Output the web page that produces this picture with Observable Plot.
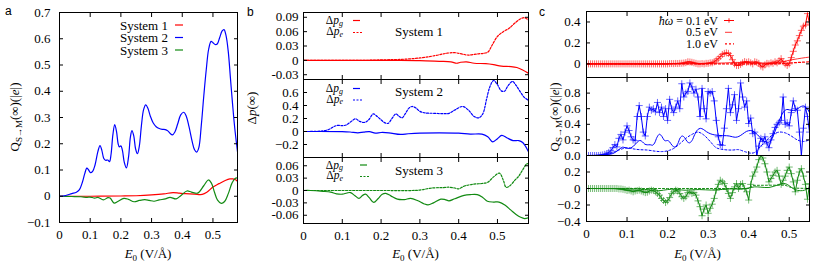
<!DOCTYPE html>
<html><head><meta charset="utf-8">
<script src="https://cdn.jsdelivr.net/npm/d3@7"></script>
<script src="https://cdn.jsdelivr.net/npm/@observablehq/plot@0.6"></script>
<style>
body{margin:0;background:#fff}
#fig{position:relative;width:830px;height:264px;overflow:hidden;font-family:"Liberation Serif","Tinos","Times New Roman","DejaVu Serif",serif;background:#fff}
#fig svg.p{position:absolute;overflow:visible}
#fig svg, #fig text{font-family:"Liberation Serif","Tinos","Times New Roman","DejaVu Serif",serif}
#fig .sans, #fig .sans text{font-family:"Liberation Sans",Arial,"DejaVu Sans",sans-serif}
#ov{position:absolute;left:0;top:0;pointer-events:none}
</style></head><body><div id="fig"></div>
<script>
// ---------- tick values and labels ----------
const xTicks = [0, 0.1, 0.2, 0.3, 0.4, 0.5];
const xTickLabels = ["0", "0.1", "0.2", "0.3", "0.4", "0.5"];
const aYTicks = [-0.1, 0, 0.1, 0.2, 0.3, 0.4, 0.5, 0.6, 0.7];
const aYLabels = ["\u22120.1", "0", "0.1", "0.2", "0.3", "0.4", "0.5", "0.6", "0.7"];
const b1YTicks = [-0.03, 0, 0.03, 0.06, 0.09];
const b1YLabels = ["-0.03", "0", "0.03", "0.06", "0.09"];
const b2YTicks = [-0.2, 0, 0.2, 0.4, 0.6];
const b2YLabels = ["\u22120.2", "0", "0.2", "0.4", "0.6"];
const b3YTicks = [-0.06, -0.03, 0, 0.03, 0.06];
const b3YLabels = ["-0.06", "-0.03", "0", "0.03", "0.06"];
const c1YTicks = [0, 0.2, 0.4];
const c1YLabels = ["0", "0.2", "0.4"];
const c2YTicks = [0, 0.2, 0.4, 0.6, 0.8];
const c2YLabels = ["0.0", "0.2", "0.4", "0.6", "0.8"];
const c3YTicks = [-0.4, -0.2, 0, 0.2];
const c3YLabels = ["\u22120.4", "\u22120.2", "0", "0.2"];

// ---------- panel a: Q_{S->M} (also hbar*omega = 0.5 eV in panel c) ----------
const aSys1 = [[0,0],[0.1,0],[0.2,0.001],[0.25,0.002],[0.3,0.005],[0.34,0.009],[0.37,0.014],[0.39,0.012],[0.41,0.01],[0.44,0.008],[0.465,0.007],[0.48,0.015],[0.5,0.035],[0.52,0.048],[0.54,0.06],[0.555,0.066],[0.565,0.066],[0.575,0.062],[0.58,0.057]];
const aSys2 = [[0,0],[0.02,0.003],[0.04,0.01],[0.055,0.015],[0.065,0.025],[0.075,0.055],[0.082,0.085],[0.089,0.107],[0.095,0.1],[0.101,0.09],[0.108,0.095],[0.116,0.12],[0.125,0.17],[0.132,0.193],[0.138,0.175],[0.144,0.145],[0.15,0.137],[0.157,0.138],[0.163,0.132],[0.168,0.16],[0.174,0.235],[0.18,0.273],[0.186,0.245],[0.191,0.2],[0.195,0.188],[0.2,0.192],[0.205,0.175],[0.211,0.13],[0.218,0.108],[0.225,0.15],[0.231,0.225],[0.236,0.25],[0.242,0.23],[0.248,0.18],[0.254,0.162],[0.26,0.19],[0.267,0.27],[0.274,0.33],[0.281,0.348],[0.288,0.335],[0.296,0.305],[0.305,0.28],[0.315,0.265],[0.325,0.258],[0.335,0.255],[0.345,0.254],[0.352,0.25],[0.36,0.24],[0.368,0.234],[0.376,0.245],[0.385,0.275],[0.395,0.31],[0.405,0.32],[0.413,0.305],[0.422,0.265],[0.432,0.21],[0.44,0.177],[0.447,0.168],[0.454,0.185],[0.462,0.27],[0.47,0.38],[0.478,0.48],[0.486,0.56],[0.494,0.59],[0.5,0.585],[0.507,0.578],[0.514,0.58],[0.522,0.605],[0.53,0.63],[0.536,0.635],[0.543,0.61],[0.55,0.55],[0.557,0.45],[0.564,0.35],[0.571,0.26],[0.58,0.17]];
const aSys3 = [[0,0],[0.04,-0.001],[0.07,-0.002],[0.09,-0.004],[0.1,-0.003],[0.115,-0.007],[0.125,-0.004],[0.143,-0.014],[0.158,-0.005],[0.165,-0.007],[0.178,-0.026],[0.19,-0.02],[0.21,-0.008],[0.225,-0.012],[0.243,-0.021],[0.26,-0.016],[0.278,-0.013],[0.293,-0.016],[0.308,-0.019],[0.325,-0.014],[0.345,-0.01],[0.36,-0.004],[0.38,-0.01],[0.395,0.002],[0.415,0.02],[0.43,0.016],[0.45,0.012],[0.47,0.04],[0.485,0.062],[0.495,0.05],[0.505,0.015],[0.515,-0.015],[0.527,-0.027],[0.538,-0.02],[0.55,0.01],[0.562,0.05],[0.572,0.068],[0.58,0.07]];

// ---------- panel b: Delta p_g (solid) and Delta p_e (dashed) ----------
const b1Pe = [[0,0],[0.15,0],[0.2,0.001],[0.25,0.002],[0.3,0.005],[0.34,0.01],[0.37,0.015],[0.39,0.016],[0.41,0.013],[0.425,0.011],[0.445,0.013],[0.465,0.015],[0.475,0.017],[0.485,0.03],[0.5,0.05],[0.515,0.06],[0.53,0.067],[0.545,0.078],[0.56,0.087],[0.57,0.089],[0.58,0.084]];
const b1Pg = [[0,0],[0.25,0],[0.3,-0.0005],[0.35,-0.002],[0.38,-0.003],[0.395,-0.006],[0.405,-0.004],[0.42,-0.003],[0.44,-0.006],[0.47,-0.007],[0.49,-0.009],[0.51,-0.012],[0.535,-0.013],[0.55,-0.015],[0.565,-0.02],[0.58,-0.027]];
const b2Pe = [[0,0],[0.03,0.002],[0.05,0.01],[0.065,0.03],[0.08,0.08],[0.09,0.095],[0.1,0.09],[0.11,0.1],[0.122,0.15],[0.134,0.195],[0.145,0.155],[0.158,0.14],[0.168,0.18],[0.18,0.27],[0.19,0.23],[0.2,0.18],[0.208,0.14],[0.218,0.125],[0.228,0.2],[0.238,0.27],[0.247,0.23],[0.254,0.21],[0.262,0.27],[0.272,0.36],[0.28,0.385],[0.29,0.36],[0.3,0.31],[0.315,0.285],[0.335,0.28],[0.36,0.275],[0.375,0.28],[0.39,0.33],[0.41,0.385],[0.425,0.33],[0.44,0.23],[0.452,0.21],[0.462,0.27],[0.472,0.5],[0.48,0.68],[0.49,0.785],[0.5,0.72],[0.51,0.625],[0.518,0.62],[0.528,0.71],[0.539,0.77],[0.548,0.71],[0.56,0.6],[0.57,0.52],[0.58,0.48]];
const b2Pg = [[0,0],[0.1,-0.002],[0.12,-0.008],[0.14,-0.02],[0.155,-0.01],[0.17,-0.003],[0.185,-0.025],[0.2,-0.015],[0.22,-0.02],[0.25,-0.045],[0.27,-0.035],[0.3,-0.025],[0.35,-0.02],[0.4,-0.025],[0.43,-0.04],[0.46,-0.04],[0.475,-0.08],[0.488,-0.16],[0.5,-0.11],[0.511,-0.06],[0.525,-0.1],[0.54,-0.14],[0.555,-0.14],[0.565,-0.17],[0.58,-0.31]];
const b3Pe = [[0,0],[0.2,0],[0.28,0],[0.3,0.001],[0.33,0.006],[0.36,0.007],[0.375,0.008],[0.39,0.006],[0.4,0.004],[0.415,0.011],[0.43,0.014],[0.445,0.016],[0.46,0.017],[0.475,0.02],[0.49,0.033],[0.505,0.042],[0.515,0.025],[0.522,0.008],[0.53,0.01],[0.545,0.025],[0.555,0.035],[0.565,0.05],[0.575,0.064],[0.58,0.065]];
const b3Pg = [[0,0],[0.018,0],[0.05,-0.002],[0.07,-0.004],[0.085,-0.008],[0.1,-0.009],[0.112,-0.006],[0.121,-0.005],[0.132,-0.012],[0.143,-0.019],[0.152,-0.012],[0.16,-0.009],[0.17,-0.018],[0.181,-0.029],[0.192,-0.02],[0.203,-0.009],[0.212,-0.007],[0.225,-0.013],[0.242,-0.021],[0.26,-0.022],[0.276,-0.019],[0.295,-0.025],[0.31,-0.032],[0.321,-0.035],[0.335,-0.03],[0.354,-0.021],[0.365,-0.022],[0.375,-0.025],[0.39,-0.02],[0.414,-0.012],[0.43,-0.01],[0.448,-0.01],[0.462,-0.017],[0.474,-0.026],[0.49,-0.028],[0.504,-0.028],[0.52,-0.036],[0.534,-0.047],[0.548,-0.058],[0.56,-0.065],[0.57,-0.068],[0.58,-0.066]];

// ---------- panel c: hbar*omega = 0.1 eV (markers), 1.0 eV (dotted) ----------
const cE = [0,0.005,0.01,0.015,0.02,0.025,0.03,0.035,0.04,0.045,0.05,0.055,0.06,0.065,0.07,0.075,0.08,0.085,0.09,0.095,0.1,0.105,0.11,0.115,0.12,0.125,0.13,0.135,0.14,0.145,0.15,0.155,0.16,0.165,0.17,0.175,0.18,0.185,0.19,0.195,0.2,0.205,0.21,0.215,0.22,0.225,0.23,0.235,0.24,0.245,0.25,0.255,0.26,0.265,0.27,0.275,0.28,0.285,0.29,0.295,0.3,0.305,0.31,0.315,0.32,0.325,0.33,0.335,0.34,0.345,0.35,0.355,0.36,0.365,0.37,0.375,0.38,0.385,0.39,0.395,0.4,0.405,0.41,0.415,0.42,0.425,0.43,0.435,0.44,0.445,0.45,0.455,0.46,0.465,0.47,0.475,0.48,0.485,0.49,0.495,0.5,0.505,0.51,0.515,0.52,0.525,0.53,0.535,0.54,0.545,0.55];
const cRed01 = [0,0,0,0,0,0,0,0,0,0, 0,0,0,0,0,0,0,0,0,0, 0,0,0,0,0,0,0,0,0,0, 0,0,0,0,0,0,0,0,0,0, 0,
 0.002,0.003,0.002,0.004,0.003,0.005,0.006,0.008,0.012,0.02, 0.018,0.015,0.01,0.005,0,0,0.003,0,0.005,0.005,
 0.01,0.01,0.02,0.035,0.05,0.07,0.09,0.1,0.105,0.1, 0.08,0.04,0,-0.015,-0.015,-0.005,0.01,0.022,0.015,0.02,
 0.01,0,0.02,0.015,0.005,-0.02,-0.03,-0.01,0.005,0, 0.01,0.005,0.02,0.01,0.03,0.05,0.02,0,-0.015,0,
 0.06,0.12,0.18,0.22,0.27,0.32,0.36,0.37,0.48,0.38];
const cBlue01 = [0,0,0,0,0,0,0,0.003,0.008,0.015,
 0.025,0.04,0.06,0.1,0.14,0.11,0.22,0.27,0.2,0.3,
 0.38,0.32,0.24,0.2,0.19,0.5,0.64,0.5,0.3,0.25,
 0.5,0.62,0.58,0.6,0.56,0.68,0.55,0.62,0.5,0.6,
 0.45,0.72,0.6,0.55,0.62,0.7,0.6,0.92,0.75,0.8,
 0.82,0.93,0.88,0.8,0.85,0.75,0.5,0.86,0.6,0.47,
 0.82,0.8,0.82,0.7,0.45,0.24,0.14,0.13,0.35,0.6,
 0.86,0.55,0.65,0.78,0.45,0.6,0.93,0.75,0.62,0.7,
 0.41,0.48,0.28,0.3,0,0.12,0.22,0.18,0.24,0.15,
 0.1,0.2,0.28,0.36,0.4,0.42,0.45,0.75,0.4,0.42,
 0.38,0.55,0.7,0.6,0.58,0.3,0,0.35,0.62,0.5,0.3];
const cGreen01 = [0,0,0,0,0,0,0,0,0,0, 0,0,0,0,0,0,-0.005,-0.005,-0.01,-0.015,
 -0.024,-0.02,-0.03,-0.04,-0.03,-0.025,-0.02,-0.03,-0.04,-0.05,
 -0.045,-0.03,-0.02,-0.025,-0.04,-0.06,-0.08,-0.12,-0.145,-0.17,
 -0.15,-0.11,-0.06,-0.04,-0.02,-0.03,-0.06,-0.1,-0.12,-0.1,
 -0.05,-0.04,-0.06,-0.05,-0.08,-0.15,-0.22,-0.33,-0.25,-0.2,
 -0.3,-0.24,-0.19,-0.12,-0.02,0.05,0.1,0.08,0.06,0,
 -0.06,-0.12,-0.05,0.02,0.06,0,0.05,0.06,0,-0.04,
 -0.14,0.05,0.15,0.2,0.26,0.35,0.4,0.37,0.3,0.2,
 0.08,0.12,0.16,0.2,0.22,0.15,0.05,0.1,0.15,0.22,
 0.26,0.18,0.08,-0.04,0.1,0.2,0.24,0.15,0.05,-0.13,0.06];
const cRed10 = [[0,0],[0.47,0],[0.5,0.008],[0.55,0.02]];
const cBlue10 = [[0,0],[0.04,0.002],[0.055,0.02],[0.07,0.05],[0.085,0.08],[0.1,0.1],[0.115,0.085],[0.13,0.075],[0.15,0.07],[0.17,0.055],[0.185,0.05],[0.2,0.06],[0.215,0.09],[0.23,0.15],[0.245,0.22],[0.26,0.27],[0.275,0.3],[0.29,0.26],[0.305,0.18],[0.32,0.1],[0.34,0.075],[0.36,0.07],[0.375,0.075],[0.39,0.05],[0.405,0.03],[0.415,0.04],[0.43,0.12],[0.445,0.2],[0.46,0.27],[0.475,0.3],[0.49,0.29],[0.505,0.25],[0.52,0.2],[0.535,0.18],[0.55,0.2]];
const cGreen10 = [[0,0],[0.2,0],[0.4,0],[0.405,0.02],[0.41,0.038],[0.45,0.04],[0.49,0.04],[0.5,0.02],[0.51,0.005],[0.55,0]];

const RED = "#ff0000", BLUE = "#0000ff", GREEN = "#128a12";
const FONT = '"Liberation Serif", Tinos, "Times New Roman", "DejaVu Serif", serif';
const fig = document.getElementById("fig");

function L(data, color, dash, sw = 1.2, curve = "catmull-rom") {
  return Plot.line(data, {x: d => d[0], y: d => d[1], stroke: color, strokeWidth: sw, strokeDasharray: dash, curve, clip: true});
}
function M(ys, color) {
  const data = cE.map((x, i) => [x, ys[i]]);
  return [
    Plot.line(data, {x: d => d[0], y: d => d[1], stroke: color, strokeWidth: 1, clip: true}),
    Plot.dot(data, {x: d => d[0], y: d => d[1], symbol: "plus", r: 2.4, stroke: color, strokeWidth: 0.8, strokeOpacity: 0.75, clip: true})
  ];
}
function sub({left, top, width, height, mt, mr, mb, ml, xmax, ydom, yTicks, yLabels, showX, pad, marks}) {
  const svg = Plot.plot({
    width, height, marginTop: mt, marginRight: mr, marginBottom: mb, marginLeft: ml,
    x: {domain: [0, xmax]}, y: {domain: ydom},
    style: {fontFamily: FONT, fontSize: "13px", background: "transparent", overflow: "visible", color: "black"},
    marks: [
      ...marks,
      Plot.axisY({anchor: "left", ticks: yTicks, tickFormat: d => yLabels[yTicks.indexOf(d)], tickSize: -4, tickPadding: pad, label: null}),
      Plot.axisY({anchor: "right", ticks: yTicks, tickFormat: () => "", tickSize: -4, label: null}),
      Plot.axisX({anchor: "bottom", ticks: xTicks, tickFormat: showX ? (d => xTickLabels[xTicks.indexOf(d)]) : (() => ""), tickSize: -4, tickPadding: 11, label: null}),
      Plot.axisX({anchor: "top", ticks: xTicks, tickFormat: () => "", tickSize: -4, label: null}),
      Plot.frame({stroke: "black", strokeWidth: 1})
    ]
  });
  svg.classList.add("p");
  svg.style.left = left + "px";
  svg.style.top = top + "px";
  fig.appendChild(svg);
}

// panel a
sub({left: 0, top: 0, width: 245, height: 264, mt: 12, mr: 8, mb: 42, ml: 59, xmax: 0.58, ydom: [-0.1, 0.7],
  yTicks: aYTicks, yLabels: aYLabels, showX: true, pad: 13,
  marks: [L(aSys1, RED), L(aSys3, GREEN), L(aSys2, BLUE)]});

// panel b
const bBox = {left: 250, width: 290, ml: 53, mr: 12, xmax: 0.58, pad: 9};
sub({...bBox, top: 0, height: 79, mt: 12, mb: 0, ydom: [-0.04, 0.1], yTicks: b1YTicks, yLabels: b1YLabels, showX: false,
  marks: [L(b1Pg, RED), L(b1Pe, RED, "2,1.5")]});
sub({...bBox, top: 79, height: 78, mt: 0, mb: 0, ydom: [-0.4, 0.8], yTicks: b2YTicks, yLabels: b2YLabels, showX: false,
  marks: [L(b2Pg, BLUE), L(b2Pe, BLUE, "2,1.5")]});
sub({...bBox, top: 157, height: 107, mt: 0, mb: 41, ydom: [-0.08, 0.08], yTicks: b3YTicks, yLabels: b3YLabels, showX: true,
  marks: [L(b3Pg, GREEN), L(b3Pe, GREEN, "2,1.5")]});

// panel c
const cBox = {left: 545, width: 285, ml: 41, mr: 21, xmax: 0.55, pad: 10};
sub({...cBox, top: 0, height: 77, mt: 11, mb: 0, ydom: [-0.13, 0.5], yTicks: c1YTicks, yLabels: c1YLabels, showX: false,
  marks: [L(aSys1, RED, null, 0.8), L(cRed10, RED, "2,2", 1.2, "linear"), ...M(cRed01, RED)]});
sub({...cBox, top: 77, height: 78, mt: 0, mb: 0, ydom: [0, 1.0], yTicks: c2YTicks, yLabels: c2YLabels, showX: false,
  marks: [L(aSys2, BLUE, null, 1), L(cBlue10, BLUE, "2,2", 1), ...M(cBlue01, BLUE)]});
sub({...cBox, top: 155, height: 109, mt: 0, mb: 43, ydom: [-0.4, 0.4], yTicks: c3YTicks, yLabels: c3YLabels, showX: true,
  marks: [L(aSys3, GREEN, null, 1), L(cGreen10, GREEN, "2,2", 1, "linear"), ...M(cGreen01, GREEN)]});

// ---------- overlay: panel letters, axis titles, legends ----------
const sub9 = 'font-size="9"';
function eTitle(x) {
  return `<text x="${x}" y="258" text-anchor="middle"><tspan font-style="italic">E</tspan><tspan ${sub9} dy="3">0</tspan><tspan dy="-3"> (V/\u00c5)</tspan></text>`;
}
function qTitle(x, y) {
  return `<text transform="translate(${x},${y}) rotate(-90)" text-anchor="middle">Q<tspan ${sub9} dy="3">S\u2192M</tspan><tspan dy="-3">(\u221e)(|</tspan><tspan font-style="italic">e</tspan>|)</text>`;
}
function dp(x, y, s) {
  return `<text x="${x}" y="${y}" text-anchor="end" font-size="11.5">\u0394<tspan font-style="italic">p</tspan><tspan font-style="italic" font-size="8" dy="1.5">${s}</tspan></text>`;
}
function bLeg(y1, y2, sx, color, name, ny) {
  return dp(343, y1 + 3.5, "g") + dp(343, y2 + 2.5, "e") +
    `<line x1="${sx}" x2="${sx + 7}" y1="${y1}" y2="${y1}" stroke="${color}" stroke-width="1.2"/>` +
    `<line x1="${sx}" x2="${sx + 10}" y1="${y2}" y2="${y2}" stroke="${color}" stroke-width="1.2" stroke-dasharray="2,1.5"/>` +
    `<text x="395" y="${ny + 4.5}">${name}</text>`;
}
const ov = `
<svg id="ov" width="830" height="264" font-size="13" fill="black">
  <g class="sans" font-size="12">
    <text x="5" y="15">a</text><text x="247" y="16">b</text><text x="539" y="16">c</text>
  </g>
  ${eTitle(148)}${eTitle(415.5)}${eTitle(697.5)}
  ${qTitle(19, 117)}
  <text transform="translate(256,108) rotate(-90)" text-anchor="middle">\u0394<tspan font-style="italic">p</tspan>(\u221e)</text>
  ${qTitle(559, 117)}
  <text x="168" y="29.5" text-anchor="end">System 1</text>
  <text x="168" y="42" text-anchor="end">System 2</text>
  <text x="168" y="54.5" text-anchor="end">System 3</text>
  <line x1="175" x2="183" y1="25" y2="25" stroke="${RED}" stroke-width="1.2"/>
  <line x1="175" x2="183" y1="37.5" y2="37.5" stroke="${BLUE}" stroke-width="1.2"/>
  <line x1="175" x2="183" y1="50" y2="50" stroke="${GREEN}" stroke-width="1.2"/>
  ${bLeg(20.5, 32.5, 353, RED, "System 1", 31.5)}
  ${bLeg(88.5, 100, 353, BLUE, "System 2", 91.5)}
  ${bLeg(165, 176.5, 360, GREEN, "System 3", 170)}
  <g font-size="12">
  <text x="718" y="24.5" text-anchor="end"><tspan font-style="italic">\u0127\u03c9</tspan> = 0.1 eV</text>
  <text x="718" y="36.3" text-anchor="end">0.5 eV</text>
  <text x="718" y="47.8" text-anchor="end">1.0 eV</text>
  </g>
  <line x1="724" x2="734" y1="20.5" y2="20.5" stroke="${RED}" stroke-width="1"/>
  <path d="M726.8,20.5h4.4M729,18.3v4.4" stroke="${RED}" stroke-width="0.9"/>
  <line x1="725" x2="732" y1="32.3" y2="32.3" stroke="${RED}" stroke-width="0.8"/>
  <line x1="725" x2="734" y1="43.8" y2="43.8" stroke="${RED}" stroke-width="1.2" stroke-dasharray="2,2"/>
</svg>`;
fig.insertAdjacentHTML("beforeend", ov);
</script></body></html>
